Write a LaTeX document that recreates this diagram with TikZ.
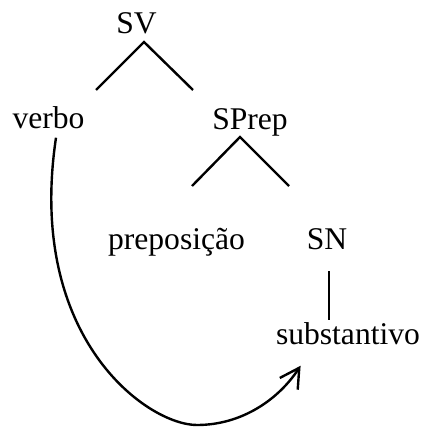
\documentclass[tikz,border=0pt]{standalone}
\usepackage{fontspec}
\setmainfont{Liberation Serif}
\usetikzlibrary{arrows.meta, calc}

\begin{document}
\begin{tikzpicture}[x=0.5pt,y=-0.5pt,
    font=\fontsize{15.8}{18}\selectfont,
    word/.style={anchor=base,inner sep=0pt},
    branch/.style={line width=1.2pt},
    move/.style={line width=1.2pt,-{Straight Barb[length=9.6pt,width=10.7pt]}}]
    \useasboundingbox (0,0) rectangle (425,428);

    % words of the tree
    \node[word] (sv) at (136.5,33) {SV};
    \node[word] (verbo) at (48.5,128) {verbo};
    \node[word] (sprep) at (250,129) {SPrep};
    \node[word] (prep) at (176.5,249) {preposição};
    \node[word] (sn) at (327,249) {SN};
    \node[word] (subst) at (348,344) {substantivo};

    % branch points
    \coordinate (sv-top) at (144,42);
    \coordinate (sv-left) at (96,90);
    \coordinate (sv-right) at (193,90);
    \coordinate (sprep-top) at (240,137);
    \coordinate (sprep-left) at (192,186);
    \coordinate (sprep-right) at (289,186);
    \coordinate (sn-top) at (329,271);
    \coordinate (sn-bot) at (329,320);

    \draw[branch] (sv-left) -- (sv-top) -- (sv-right);
    \draw[branch] (sprep-left) -- (sprep-top) -- (sprep-right);
    \draw[branch] (sn-top) -- (sn-bot);

    % movement arrow
    \coordinate (move-start) at ($(verbo.south)+(7.5,9)$);
    \coordinate (move-low) at (197,425);
    \coordinate (move-end) at ($(subst.south west)+(25,21)$);
    \draw[move] (move-start) .. controls +(-30,200) and +(-50,0) .. (move-low)
        .. controls +(45,0) and +(-22,33.6) .. (move-end);
\end{tikzpicture}
\end{document}
